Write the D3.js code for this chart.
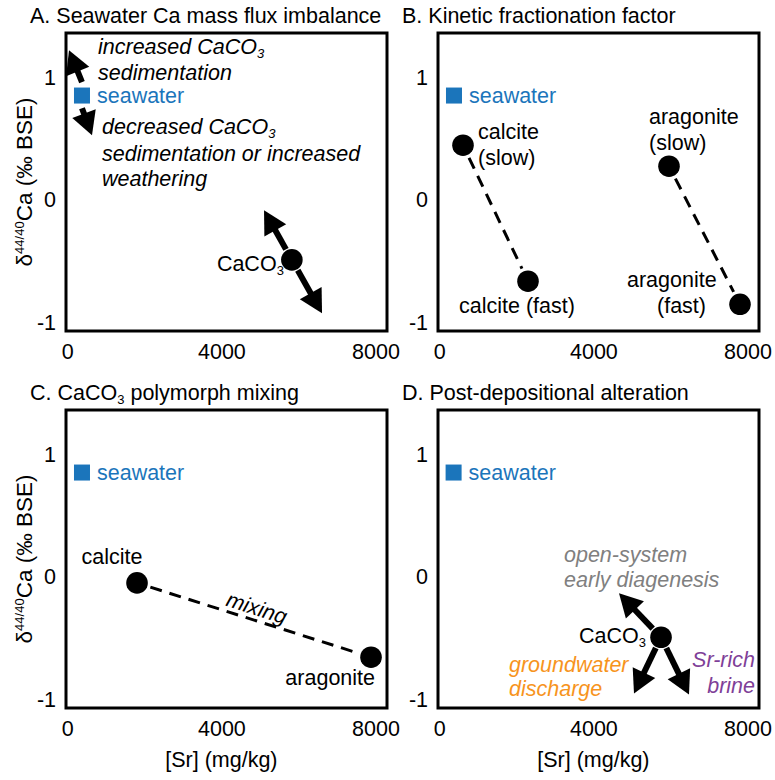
<!DOCTYPE html>
<html><head><meta charset="utf-8">
<script src="https://cdn.jsdelivr.net/npm/d3@7"></script>
<style>body{margin:0;background:#fff}svg{display:block}text{font-family:"Liberation Sans",Arial,Helvetica,sans-serif}</style>
</head><body>
<svg id="chart" width="775" height="780"></svg>
<script>
// ---------- DATA ----------
const xTicks = [0, 4000, 8000];
const yTicks = [1, 0, -1];
const panelTitles = ["A. Seawater Ca mass flux imbalance", "B. Kinetic fractionation factor", "C. CaCO3 polymorph mixing", "D. Post-depositional alteration"];
const xTitle = "[Sr] (mg/kg)";
// seawater reference point per panel [Sr, d44Ca]
const seawater = [[380, 0.85], [380, 0.85], [380, 0.85], [370, 0.85]];
// Panel A
const caco3A = [5830, -0.49];
const arrowsA = [ // [fromSr, fromCa, toSr, toCa]
  [5830, -0.49, 5107, -0.085],
  [5830, -0.49, 6613, -0.925],
  [380, 0.96, 43, 1.22],
  [380, 0.747, 640, 0.527]
];
// Panel B
const calciteB = [[614, 0.445], [2302, -0.664]];    // slow, fast
const aragoniteB = [[5963, 0.274], [7807, -0.852]]; // slow, fast
// Panel C
const mixC = [[1809, -0.05], [7885, -0.656]];       // calcite, aragonite
// Panel D
const caco3D = [5756, -0.493];
const arrowsD = [
  [5756, -0.493, 4665, -0.135],
  [5756, -0.493, 5054, -0.951],
  [5756, -0.493, 6482, -0.960]
];

// ---------- LAYOUT ----------
const svg = d3.select("#chart");
const W = 321, H = 298;
const origins = [[66, 33], [438, 33], [66, 410], [438, 410]];
const BLUE = "#1b75bb", ORANGE = "#f7941d", PURPLE = "#7f3f98", GREY = "#808080";
const FS = 21.5, SUB = 13;

function rich(sel, parts) {
  let shift = 0;
  parts.forEach(p => {
    const off = p.sub ? 4 : p.sup ? -8 : 0;
    const ts = sel.append("tspan").text(p.t).attr("dy", off - shift);
    if (p.sub || p.sup) ts.attr("font-size", SUB);
    shift = off;
  });
  return sel;
}
const CaCO3 = [{t: "CaCO"}, {t: "3", sub: true}];

function makePanel(i) {
  const [L, T] = origins[i];
  const x = d3.scaleLinear().domain([-35, 8300]).range([L, L + W]);
  const y = d3.scaleLinear().domain([-1.07, 1.36]).range([T + H, T]);
  const g = svg.append("g");
  const xa = g.append("g").attr("transform", `translate(0,${T + H})`)
    .call(d3.axisBottom(x).tickValues(xTicks).tickSize(0).tickPadding(13).tickFormat(d3.format("d")));
  const ya = g.append("g").attr("transform", `translate(${L},0)`)
    .call(d3.axisLeft(y).tickValues(yTicks).tickSize(0).tickPadding(10).tickFormat(d => d));
  [xa, ya].forEach(a => {
    a.select(".domain").remove();
    a.selectAll("text").attr("font-size", FS).attr("fill", "#000")
      .style("font-family", '"Liberation Sans",Arial,sans-serif');
  });
  g.append("rect").attr("x", L).attr("y", T).attr("width", W).attr("height", H)
    .attr("fill", "none").attr("stroke", "#000").attr("stroke-width", 3);
  const title = g.append("text").attr("x", i % 2 ? 402 : 30).attr("y", T - 10).attr("font-size", FS);
  if (i === 2) rich(title, [{t: "C. CaCO"}, {t: "3", sub: true}, {t: " polymorph mixing"}]);
  else title.text(panelTitles[i]);
  const sw = seawater[i];
  g.append("rect").attr("x", x(sw[0]) - 8).attr("y", y(sw[1]) - 8).attr("width", 16).attr("height", 16).attr("fill", BLUE);
  g.append("text").attr("x", x(sw[0]) + 15).attr("y", y(sw[1]) + 7).attr("font-size", FS).attr("fill", BLUE).text("seawater");
  if (i % 2 === 0) {
    const yt = g.append("text").attr("transform", `translate(32,${T + H / 2}) rotate(-90)`)
      .attr("text-anchor", "middle").attr("font-size", 22.5);
    rich(yt, [{t: "δ"}, {t: "44/40", sup: true}, {t: "Ca (‰ BSE)"}]);
  }
  if (i >= 2) {
    g.append("text").attr("x", x(4000)).attr("y", T + H + 59).attr("text-anchor", "middle")
      .attr("font-size", FS).text(xTitle);
  }
  return {g, x, y, L, T};
}

function dot(p, d) {
  p.g.append("circle").attr("cx", p.x(d[0])).attr("cy", p.y(d[1])).attr("r", 10.8).attr("fill", "#000");
}
function arrow(p, a, gap) {
  const x1 = p.x(a[0]), y1 = p.y(a[1]), x2 = p.x(a[2]), y2 = p.y(a[3]);
  const dx = x2 - x1, dy = y2 - y1, len = Math.hypot(dx, dy);
  const ux = dx / len, uy = dy / len, nx = -uy, ny = ux;
  const hl = 23, hw = 12.5;
  const bx = x2 - ux * hl, by = y2 - uy * hl;
  p.g.append("line").attr("x1", x1 + ux * gap).attr("y1", y1 + uy * gap)
    .attr("x2", bx + ux * 2).attr("y2", by + uy * 2).attr("stroke", "#000").attr("stroke-width", 6);
  p.g.append("polygon").attr("points", [[x2, y2], [bx + nx * hw, by + ny * hw], [bx - nx * hw, by - ny * hw]].map(q => q.join(",")).join(" "))
    .attr("fill", "#000");
}
function dashed(p, a, b, gap) {
  const x1 = p.x(a[0]), y1 = p.y(a[1]), x2 = p.x(b[0]), y2 = p.y(b[1]);
  const len = Math.hypot(x2 - x1, y2 - y1), ux = (x2 - x1) / len, uy = (y2 - y1) / len;
  p.g.append("line").attr("x1", x1 + ux * gap).attr("y1", y1 + uy * gap)
    .attr("x2", x2 - ux * gap).attr("y2", y2 - uy * gap)
    .attr("stroke", "#000").attr("stroke-width", 3).attr("stroke-dasharray", "12,8");
}
function label(p, x, y, parts, opts = {}) {
  const t = p.g.append("text").attr("x", x).attr("y", y).attr("font-size", FS)
    .attr("text-anchor", opts.anchor || "start").attr("fill", opts.color || "#000");
  if (opts.italic) t.attr("font-style", "italic");
  if (typeof parts === "string") t.text(parts); else rich(t, parts);
  return t;
}

// ---------- PANEL A ----------
const pA = makePanel(0);
arrowsA.forEach((a, k) => arrow(pA, a, k < 2 ? 12 : 0));
dot(pA, caco3A);
label(pA, pA.L + 32, pA.T + 21, [{t: "increased CaCO"}, {t: "3", sub: true}], {italic: true});
label(pA, pA.L + 32, pA.T + 47, "sedimentation", {italic: true});
label(pA, pA.L + 36, pA.T + 101, [{t: "decreased CaCO"}, {t: "3", sub: true}], {italic: true});
label(pA, pA.L + 36, pA.T + 128, "sedimentation or increased", {italic: true});
label(pA, pA.L + 36, pA.T + 153, "weathering", {italic: true});
label(pA, pA.x(caco3A[0]) - 8, pA.y(caco3A[1]) + 11, CaCO3, {anchor: "end"});

// ---------- PANEL B ----------
const pB = makePanel(1);
dashed(pB, calciteB[0], calciteB[1], 14);
dashed(pB, aragoniteB[0], aragoniteB[1], 14);
calciteB.concat(aragoniteB).forEach(d => dot(pB, d));
label(pB, pB.x(calciteB[0][0]) + 15, pB.y(calciteB[0][1]) - 6, "calcite");
label(pB, pB.x(calciteB[0][0]) + 15, pB.y(calciteB[0][1]) + 20, "(slow)");
label(pB, pB.x(calciteB[1][0]) - 69, pB.y(calciteB[1][1]) + 32, "calcite (fast)");
label(pB, pB.x(aragoniteB[0][0]) - 20, pB.y(aragoniteB[0][1]) - 42, "aragonite");
label(pB, pB.x(aragoniteB[0][0]) - 20, pB.y(aragoniteB[0][1]) - 16, "(slow)");
label(pB, pB.x(aragoniteB[1][0]) - 113, pB.y(aragoniteB[1][1]) - 17, "aragonite");
label(pB, pB.x(aragoniteB[1][0]) - 83, pB.y(aragoniteB[1][1]) + 9, "(fast)");

// ---------- PANEL C ----------
const pC = makePanel(2);
dashed(pC, mixC[0], mixC[1], 14);
mixC.forEach(d => dot(pC, d));
label(pC, pC.x(mixC[0][0]) - 25, pC.y(mixC[0][1]) - 19, "calcite", {anchor: "middle"});
label(pC, pC.x(mixC[1][0]) + 4, pC.y(mixC[1][1]) + 28, "aragonite", {anchor: "end"});
{
  const x1 = pC.x(mixC[0][0]), y1 = pC.y(mixC[0][1]), x2 = pC.x(mixC[1][0]), y2 = pC.y(mixC[1][1]);
  const ang = Math.atan2(y2 - y1, x2 - x1) * 180 / Math.PI;
  const mx = 253, my = y1 + (mx - x1) * (y2 - y1) / (x2 - x1);
  pC.g.append("text").attr("transform", `translate(${mx},${my}) rotate(${ang}) translate(0,-5)`)
    .attr("text-anchor", "middle").attr("font-size", FS).attr("font-style", "italic").text("mixing");
}

// ---------- PANEL D ----------
const pD = makePanel(3);
arrowsD.forEach(a => arrow(pD, a, 12));
dot(pD, caco3D);
label(pD, pD.x(caco3D[0]) - 15, pD.y(caco3D[1]) + 6, CaCO3, {anchor: "end"});
label(pD, pD.L + 126, pD.T + 152, "open-system", {italic: true, color: GREY});
label(pD, pD.L + 126, pD.T + 177, "early diagenesis", {italic: true, color: GREY});
label(pD, pD.L + 71, pD.T + 262, "groundwater", {italic: true, color: ORANGE});
label(pD, pD.L + 71, pD.T + 286, "discharge", {italic: true, color: ORANGE});
label(pD, pD.L + 317, pD.T + 257, "Sr-rich", {italic: true, color: PURPLE, anchor: "end"});
label(pD, pD.L + 317, pD.T + 283, "brine", {italic: true, color: PURPLE, anchor: "end"});
</script>
</body></html>
